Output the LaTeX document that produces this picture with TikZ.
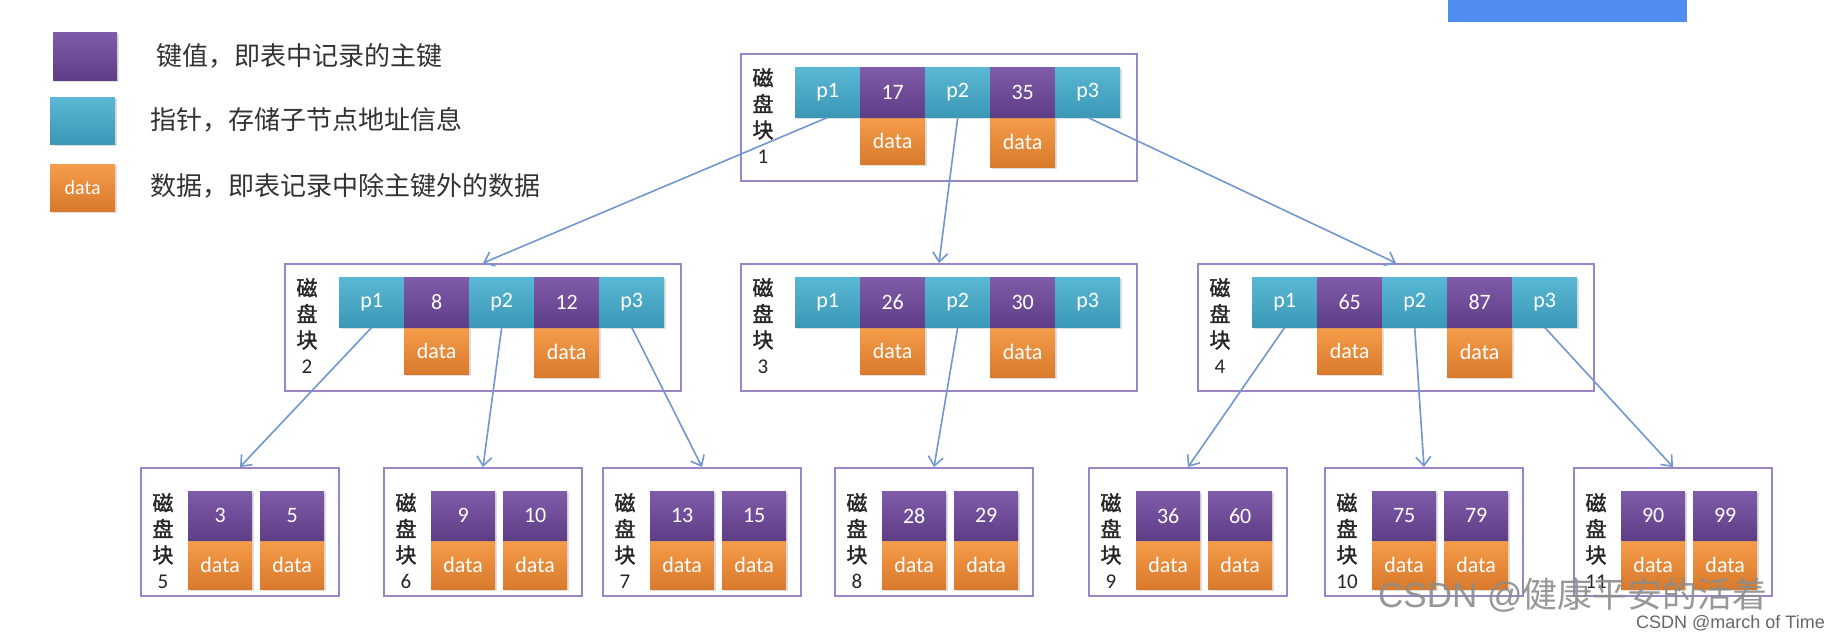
\documentclass[tikz,border=0pt]{standalone}
\usepackage{fontspec}
\usetikzlibrary{arrows.meta,shadows}
\newfontfamily\cjk{Noto Sans CJK SC}
\newfontfamily\cjkb[FakeBold=1.5]{Noto Sans CJK SC}
\newfontfamily\calfont{Carlito}
\newfontfamily\arifont{Liberation Sans}
\definecolor{keyT}{HTML}{7F5CA9}
\definecolor{keyB}{HTML}{5E3D86}
\definecolor{ptrT}{HTML}{5BB8D4}
\definecolor{ptrB}{HTML}{3A98B6}
\definecolor{datT}{HTML}{F59D4A}
\definecolor{datB}{HTML}{D9792C}
\definecolor{boxc}{HTML}{9A86C4}
\definecolor{linkc}{HTML}{7296CE}
\definecolor{topblue}{HTML}{4F8EF0}
\definecolor{legc}{HTML}{333333}
\tikzset{
  cell/.style={anchor=north west, inner sep=0pt, minimum width=65pt, minimum height=50pt,
    text=white, font=\calfont\fontsize{22}{22}\selectfont,
    drop shadow={opacity=0.25, shadow xshift=1.5pt, shadow yshift=-2pt}},
  key/.style={cell, top color=keyT, bottom color=keyB},
  ptr/.style={cell, top color=ptrT, bottom color=ptrB},
  dat/.style={cell, top color=datT, bottom color=datB, minimum height=47pt},
  blockbox/.style={anchor=north west, draw=boxc, line width=2pt, inner sep=0pt},
  lbl/.style={align=center, inner sep=0pt, text=black!85,
    font=\cjkb\fontsize{21}{26}\selectfont},
  legtext/.style={anchor=west, inner sep=0pt, text=legc, font=\cjk\fontsize{26}{26}\selectfont},
  link/.style={draw=linkc, line width=1.6pt,
    -{Straight Barb[length=9pt,width=15pt,line width=1.6pt]}}
}
% upper block: name, left, top, number, key1, key2
\newcommand\upblock[6]{%
  \begin{scope}[shift={(#2,#3)}]
    \node[blockbox, minimum width=396pt, minimum height=127pt] (#1) at (0,0) {};
    \node[lbl] (#1-l) at (23,63) {磁\\盘\\块\\{\calfont #4}};
    \node[dat] (#1-d1) at (120,64) {data};
    \node[dat, minimum height=50pt] (#1-d2) at (250,64) {data};
    \node[ptr] (#1-p1) at (55,14) {p1};
    \node[key] (#1-k1) at (120,14) {#5};
    \node[ptr] (#1-p2) at (185,14) {p2};
    \node[key] (#1-k2) at (250,14) {#6};
    \node[ptr] (#1-p3) at (315,14) {p3};
  \end{scope}}
% leaf block: name, left, top, number, key1, key2
\newcommand\lowblock[6]{%
  \begin{scope}[shift={(#2,#3)}]
    \node[blockbox, minimum width=198pt, minimum height=128pt] (#1) at (0,0) {};
    \node[lbl] (#1-l) at (23,74) {磁\\盘\\块\\{\calfont #4}};
    \node[dat, minimum width=64pt, minimum height=49pt] (#1-d1) at (48,73) {data};
    \node[dat, minimum width=64pt, minimum height=49pt] (#1-d2) at (120,73) {data};
    \node[key, minimum width=64pt, minimum height=49pt] (#1-k1) at (48,24) {#5};
    \node[key, minimum width=64pt, minimum height=49pt] (#1-k2) at (120,24) {#6};
  \end{scope}}
\begin{document}
\begin{tikzpicture}[x=1pt,y=-1pt]
  \fill[white] (0,0) rectangle (1840,638);
  \useasboundingbox (0,0) rectangle (1840,638);
  % top cut-off element
  \fill[topblue] (1448,0) rectangle (1687,22);
  % legend
  \node[key, minimum width=64pt, minimum height=48pt] (lgk) at (53,32) {};
  \node[ptr, minimum width=65pt, minimum height=47pt] (lgp) at (50,97) {};
  \node[dat, minimum width=65pt, minimum height=47pt,
        font=\calfont\fontsize{20}{20}\selectfont] (lgd) at (50,164) {data};
  \node[legtext] (lgkt) at (156,56) {键值，即表中记录的主键};
  \node[legtext] (lgpt) at (150,120) {指针，存储子节点地址信息};
  \node[legtext] (lgdt) at (150,186) {数据，即表记录中除主键外的数据};
  % blocks
  \upblock{b1}{740}{53}{1}{17}{35}
  \upblock{b2}{284}{263}{2}{8}{12}
  \upblock{b3}{740}{263}{3}{26}{30}
  \upblock{b4}{1197}{263}{4}{65}{87}
  \lowblock{b5}{140}{467}{5}{3}{5}
  \lowblock{b6}{383}{467}{6}{9}{10}
  \lowblock{b7}{602}{467}{7}{13}{15}
  \lowblock{b8}{834}{467}{8}{28}{29}
  \lowblock{b9}{1088}{467}{9}{36}{60}
  \lowblock{b10}{1324}{467}{10}{75}{79}
  \lowblock{b11}{1573}{467}{11}{90}{99}
  % links
  \draw[link] (b1-p1.south) -- (b2.north);
  \draw[link] (b1-p2.south) -- (b3.north);
  \draw[link] (b1-p3.south) -- (b4.north);
  \draw[link] (b2-p1.south) -- (b5.north);
  \draw[link] (b2-p2.south) -- (b6.north);
  \draw[link] (b2-p3.south) -- (b7.north);
  \draw[link] (b3-p2.south) -- (b8.north);
  \draw[link] (b4-p1.south) -- (b9.north);
  \draw[link] (b4-p2.south) -- (b10.north);
  \draw[link] (b4-p3.south) -- (b11.north);
  % watermarks
  \node[anchor=base west, inner sep=0pt, text=black!45, opacity=0.9] (wm) at (1378,607)
    {\arifont\fontsize{35}{35}\selectfont CSDN @\cjk 健康平安的活着};
  \node[anchor=base east, inner sep=0pt, text=black!60] (wm2) at (1825,628)
    {\arifont\fontsize{18}{18}\selectfont CSDN @march of Time};
\end{tikzpicture}
\end{document}
